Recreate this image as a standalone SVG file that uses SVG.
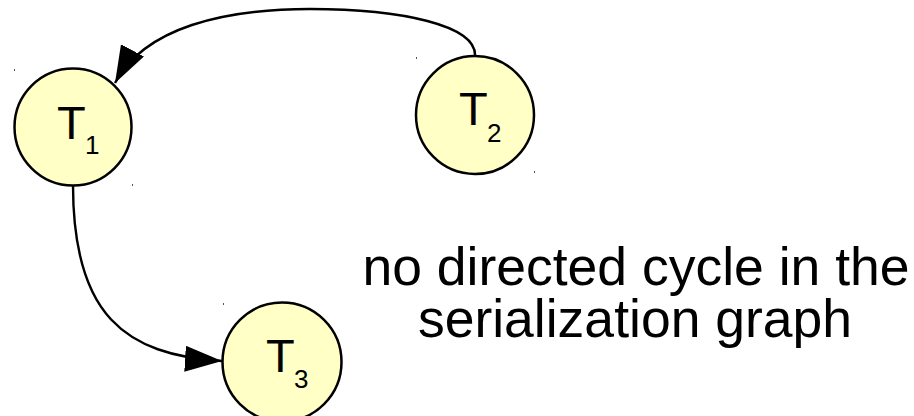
<svg xmlns="http://www.w3.org/2000/svg" width="914" height="416" viewBox="0 0 914 416">
<style>
.node{fill:#ffffc6;stroke:#000;stroke-width:2.5}
.t{font-family:"Liberation Sans",Arial,sans-serif;fill:#000}
.big{font-size:47px}
.sub{font-size:26px}
.edge{fill:none;stroke:#000;stroke-width:2.4}
.cap{font-family:"Liberation Sans",Arial,sans-serif;font-size:53.5px;fill:#000;text-anchor:middle}
.mark{fill:#555}
</style>
<defs>
<marker id="arr" markerUnits="userSpaceOnUse" markerWidth="37" markerHeight="26" viewBox="0 0 37 26" refX="37" refY="13" orient="auto">
<path d="M0,0 L37,13 L0,26 Z" fill="#000"/>
</marker>
</defs>
<rect width="914" height="416" fill="#fff"/>
<g id="marks">
<rect class="mark" x="14" y="69" width="1" height="2"/>
<rect class="mark" x="132" y="184" width="1" height="2"/>
<rect class="mark" x="416" y="57" width="1" height="2"/>
<rect class="mark" x="534" y="171" width="1" height="2"/>
<rect class="mark" x="223" y="303" width="1" height="2"/>
</g>
<g id="connectors">
<path class="edge" d="M475,57 C478,25 400,9 310,9 C225,9 145,27 115,83" marker-end="url(#arr)"/>
<path class="edge" d="M73,185 C73,315 125,355 222,361" marker-end="url(#arr)"/>
</g>
<g id="T1">
<circle class="node" cx="73" cy="127" r="58.5"/>
<text class="t big" x="57" y="139">T</text>
<text class="t sub" x="85" y="154">1</text>
</g>
<g id="T2">
<circle class="node" cx="475" cy="115" r="59"/>
<text class="t big" x="459" y="125">T</text>
<text class="t sub" x="487" y="141.5">2</text>
</g>
<g id="T3">
<circle class="node" cx="282" cy="362" r="59.5"/>
<text class="t big" x="266" y="372">T</text>
<text class="t sub" x="294" y="388">3</text>
</g>
<g id="caption">
<text class="cap" x="636" y="285">no directed cycle in the</text>
<text class="cap" x="635" y="337">serialization graph</text>
</g>
</svg>
